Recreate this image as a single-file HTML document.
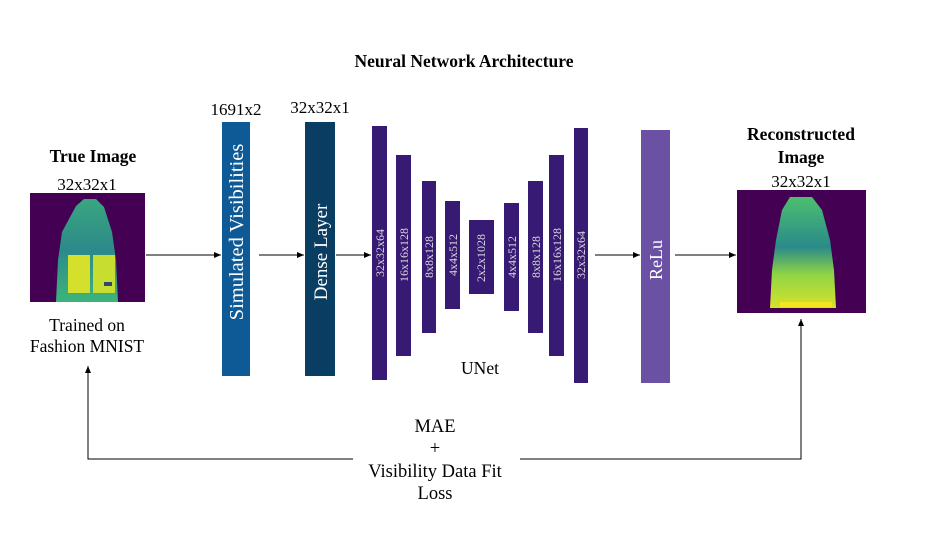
<!DOCTYPE html>
<html><head><meta charset="utf-8"><style>
body{margin:0;background:#fff}
svg text{font-family:"Liberation Serif",serif}
</style></head><body>
<svg width="928" height="534" viewBox="0 0 928 534" xmlns="http://www.w3.org/2000/svg">
<defs>
<marker id="ah" markerWidth="8" markerHeight="8" refX="7" refY="4" orient="auto"><path d="M0,1 L7,4 L0,7 z" fill="#000"/></marker>
<linearGradient id="gj" x1="0" y1="0" x2="0" y2="1"><stop offset="0" stop-color="#3aa67f"/><stop offset="0.5" stop-color="#2c8a8a"/><stop offset="1" stop-color="#3db47a"/></linearGradient>
<linearGradient id="gr" x1="0" y1="0" x2="0" y2="1"><stop offset="0" stop-color="#4cbf6e"/><stop offset="0.45" stop-color="#2a8a8a"/><stop offset="0.7" stop-color="#8fd544"/><stop offset="1" stop-color="#d8e22c"/></linearGradient>
</defs>
<text x="464" y="67" text-anchor="middle" font-size="17.5" font-weight="bold">Neural Network Architecture</text>

<g>
<text x="93" y="162" text-anchor="middle" font-size="17.5" font-weight="bold">True Image</text>
<text x="87" y="190" text-anchor="middle" font-size="17">32x32x1</text>
<rect x="30" y="193" width="115" height="109" fill="#440154"/>
<path d="M76,206 L84,199 L96,199 L104,207 L112,232 L116,260 L118,302 L56,302 L58,260 L62,232 Z" fill="url(#gj)"/>
<rect x="68" y="255" width="22" height="38" fill="#d4e02b"/>
<rect x="93" y="255" width="22" height="38" fill="#c7dd30"/>
<rect x="104" y="282" width="8" height="4" fill="#31456e"/>
<text x="87" y="331" text-anchor="middle" font-size="17.5">Trained on</text>
<text x="87" y="352" text-anchor="middle" font-size="17.5">Fashion MNIST</text>
</g>

<g>
<text x="236" y="115" text-anchor="middle" font-size="17">1691x2</text>
<rect x="222" y="122" width="28" height="254" fill="#0e5a97"/>
<text transform="translate(243,232) rotate(-90)" text-anchor="middle" font-size="20.5" fill="#fff">Simulated Visibilities</text>
</g>
<g>
<text x="320" y="113" text-anchor="middle" font-size="17">32x32x1</text>
<rect x="305" y="122" width="30" height="254" fill="#0a3d62"/>
<text transform="translate(327,252) rotate(-90)" text-anchor="middle" font-size="19" fill="#fff">Dense Layer</text>
</g>

<g fill="#371a73">
<rect x="372" y="126" width="15" height="254"/>
<rect x="396" y="155" width="15" height="201"/>
<rect x="422" y="181" width="14" height="152"/>
<rect x="445" y="201" width="15" height="108"/>
<rect x="469" y="220" width="25" height="74"/>
<rect x="504" y="203" width="15" height="108"/>
<rect x="528" y="181" width="15" height="152"/>
<rect x="549" y="155" width="15" height="201"/>
<rect x="574" y="128" width="14" height="255"/>
<g font-size="12" fill="#ddd" text-anchor="middle">
<text transform="translate(384,253) rotate(-90)">32x32x64</text>
<text transform="translate(408,255) rotate(-90)">16x16x128</text>
<text transform="translate(433,257) rotate(-90)">8x8x128</text>
<text transform="translate(457,255) rotate(-90)">4x4x512</text>
<text transform="translate(485,258) rotate(-90)">2x2x1028</text>
<text transform="translate(516,257) rotate(-90)">4x4x512</text>
<text transform="translate(540,257) rotate(-90)">8x8x128</text>
<text transform="translate(561,255) rotate(-90)">16x16x128</text>
<text transform="translate(585,255) rotate(-90)">32x32x64</text>
</g>
<text x="480" y="374" text-anchor="middle" font-size="17.5" fill="#000">UNet</text>
</g>

<g>
<rect x="641" y="130" width="29" height="253" fill="#6a51a3"/>
<text transform="translate(662,260) rotate(-90)" text-anchor="middle" font-size="18" fill="#fff">ReLu</text>
</g>

<g>
<text x="801" y="140" text-anchor="middle" font-size="17.5" font-weight="bold">Reconstructed</text>
<text x="801" y="163" text-anchor="middle" font-size="17.5" font-weight="bold">Image</text>
<text x="801" y="187" text-anchor="middle" font-size="17">32x32x1</text>
<rect x="737" y="190" width="129" height="123" fill="#440154"/>
<path d="M790,197 L812,197 L822,210 L830,240 L834,270 L836,308 L770,308 L772,270 L776,240 L782,210 Z" fill="url(#gr)"/>
<rect x="780" y="302" width="52" height="5" fill="#f3e51e"/>
</g>

<g stroke="#000" stroke-width="1" fill="none">
<line x1="146" y1="255" x2="221" y2="255" marker-end="url(#ah)"/>
<line x1="259" y1="255" x2="304" y2="255" marker-end="url(#ah)"/>
<line x1="336" y1="255" x2="371" y2="255" marker-end="url(#ah)"/>
<line x1="595" y1="255" x2="640" y2="255" marker-end="url(#ah)"/>
<line x1="675" y1="255" x2="736" y2="255" marker-end="url(#ah)"/>
<polyline points="353,459 88,459 88,366" marker-end="url(#ah)"/>
<polyline points="520,459 801,459 801,319" marker-end="url(#ah)"/>
</g>
<g font-size="18.5" text-anchor="middle">
<text x="435" y="432">MAE</text>
<text x="435" y="454">+</text>
<text x="435" y="477">Visibility Data Fit</text>
<text x="435" y="499">Loss</text>
</g>
</svg>
</body></html>
